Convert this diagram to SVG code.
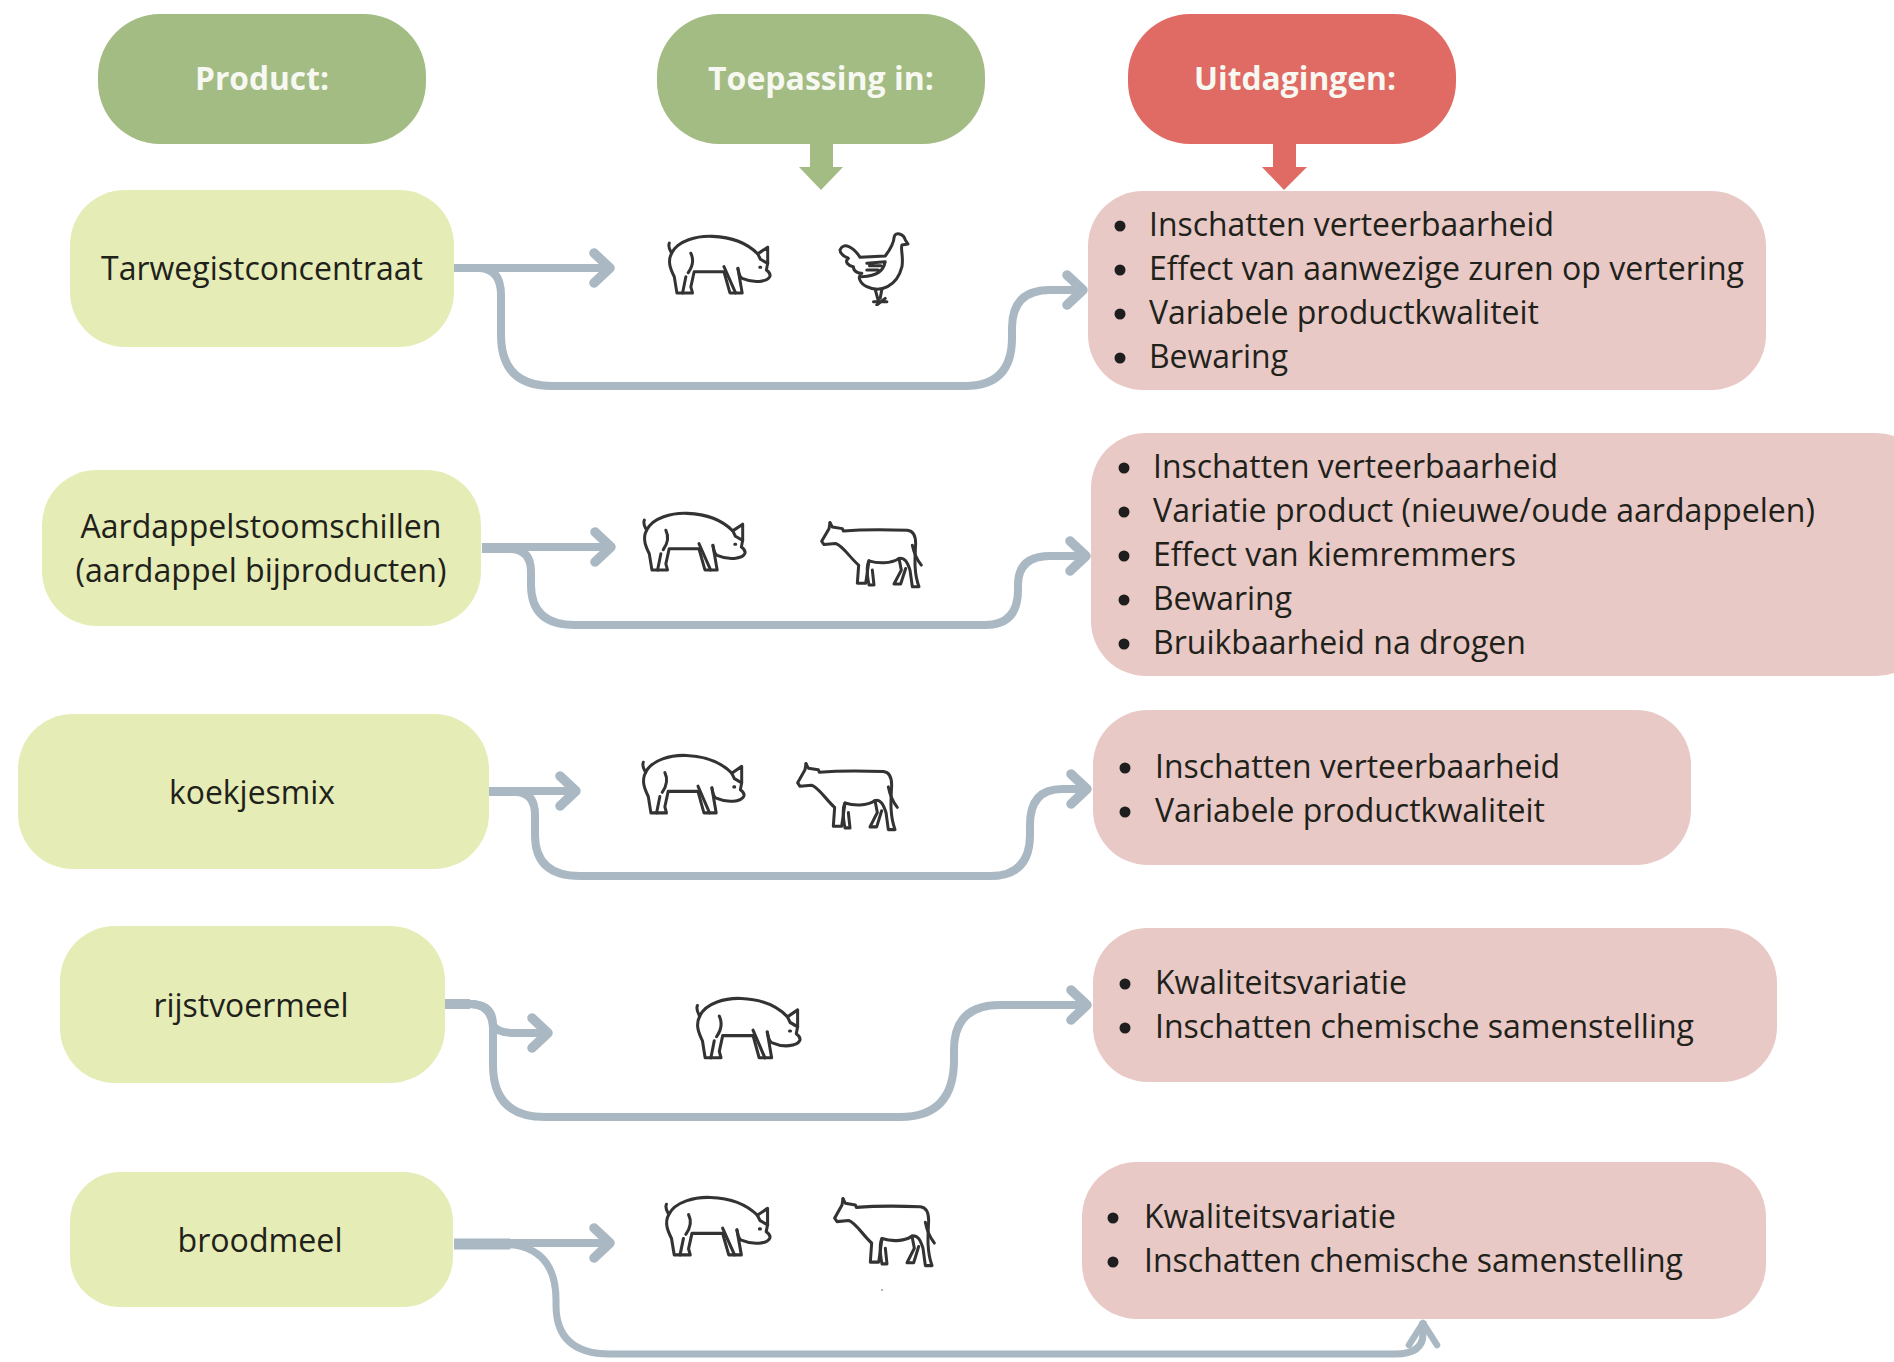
<svg xmlns="http://www.w3.org/2000/svg" xmlns:xlink="http://www.w3.org/1999/xlink" width="1894" height="1362" viewBox="0 0 1894 1362">
<style>
text{font-family:"Open Sans","Noto Sans","Liberation Sans",sans-serif;font-size:33px;fill:#1f221b}
.c{text-anchor:middle}
.h{font-weight:700;fill:#f7f8f2;font-size:33px}
.hg{fill:#a3bc83}.hr{fill:#e06a64}.p{fill:#e5ecb5}.u{fill:#e8c9c5}
.dot{fill:#1e1e1e}
.cn{fill:none;stroke:#a9b8c2;stroke-width:8;marker-end:url(#chev)}
.cv{fill:none;stroke:#a9b8c2;stroke-width:7;marker-end:url(#chevn)}
.ic{fill:none;stroke:#333;stroke-width:9;stroke-linecap:round;stroke-linejoin:round}
</style>
<defs>
<marker id="chev" markerUnits="userSpaceOnUse" markerWidth="40" markerHeight="50" refX="26" refY="25" orient="auto"><path d="M8 10L24 25L8 40" fill="none" stroke="#a9b8c2" stroke-width="9.5" stroke-linecap="round" stroke-linejoin="round"/></marker>
<marker id="chevn" markerUnits="userSpaceOnUse" markerWidth="40" markerHeight="50" refX="30" refY="25" orient="auto"><path d="M6 11L28 25L6 39" fill="none" stroke="#a9b8c2" stroke-width="6.5" stroke-linecap="round" stroke-linejoin="round"/></marker>
<symbol id="pig" viewBox="0 0 320 190" preserveAspectRatio="none"><g class="ic" transform="translate(-75,-310)">
<path d="M85 340C80 352 88 362 92 370C110 332 170 318 215 320C270 322 320 340 352 372L382 352V400L378 420C385 425 392 432 388 440C380 455 340 460 305 445C295 440 295 425 292 415"/>
<path d="M352 372L360 388L382 400M358 412h3"/>
<path d="M92 370C78 395 90 420 100 440L108 488H155L150 470L160 425H250L268 488H305L292 415"/>
<path d="M125 488L135 440M150 370C160 390 155 410 142 428M250 410L285 488"/>
</g></symbol>
<symbol id="cow" viewBox="0 0 315 205" preserveAspectRatio="none"><g class="ic" transform="translate(-595,-92)">
<path d="M628 97L635 110L665 115L668 122C720 118 800 118 860 120C880 122 885 140 885 160C882 210 880 250 895 290H875L868 240C860 215 850 200 835 205C810 222 770 220 745 212C735 230 740 260 745 285H760L755 240"/>
<path d="M875 165C880 190 890 210 902 225M835 205L842 240L820 282H840L855 235"/>
<path d="M745 212L735 280H710L714 225C690 205 665 165 645 160L610 163L603 153L625 115L628 97"/>
</g></symbol>
<symbol id="hen" viewBox="0 0 215 225" preserveAspectRatio="none"><g class="ic" transform="translate(-594,-303)">
<path d="M762 320C765 305 790 310 795 330L803 342L785 345C780 355 790 380 785 410C770 470 720 490 680 470C660 460 650 440 665 430C655 430 640 425 640 410C625 408 612 395 625 385C615 380 600 375 600 360C610 335 640 350 660 382L735 378C745 365 760 345 762 320Z"/>
<path d="M680 400L735 395C730 420 715 438 665 440M688 407H722M680 420H714"/>
<path d="M705 478L715 515M725 478L720 505M700 515H740M710 525L735 505"/>
</g></symbol>
</defs>

<g id="connectors">
<path class="cn" d="M454 268H612"/>
<path class="cn" d="M454 268H478Q501 268 501 295V335Q501 386 552 386H965Q1012 386 1012 338V328Q1012 290 1050 290H1085"/>
<path class="cn" d="M482 547H613"/>
<path class="cn" d="M482 549H510Q531 549 531 572V585Q531 625 575 625H985Q1018 625 1018 590V585Q1018 556 1050 556H1088"/>
<path class="cn" d="M489 791H578"/>
<path class="cn" d="M489 792H515Q535 792 535 815V835Q535 876 580 876H990Q1030 876 1030 835V825Q1030 789 1062 789H1089"/>
<path class="cn" d="M445 1004H470Q493 1004 493 1025Q497 1033 515 1033H550"/>
<path class="cn" d="M445 1004H470Q493 1004 493 1030V1065Q493 1117 545 1117H900Q954 1117 954 1060V1050Q954 1005 1000 1005H1089"/>
<path class="cn" d="M454 1243H612"/>
<path class="cv" d="M454 1245H515Q556 1252 556 1300V1305Q556 1354 610 1354H1395Q1423 1354 1423 1334V1321"/>
<path d="M454 1244H510" fill="none" stroke="#a9b8c2" stroke-width="11"/>
<path d="M445 1004H470" fill="none" stroke="#a9b8c2" stroke-width="10"/>
</g>

<g id="h-product"><rect class="hg" x="98" y="14" width="328" height="130" rx="62"/><text class="c h" x="262" y="90" textLength="134" lengthAdjust="spacingAndGlyphs">Product:</text></g>
<g id="h-toepassing"><rect class="hg" x="657" y="14" width="328" height="130" rx="62"/><text class="c h" x="821" y="90" textLength="226" lengthAdjust="spacingAndGlyphs">Toepassing in:</text>
<path class="hg" d="M810 144H833V167H843L821 190L799 167H810Z"/></g>
<g id="h-uitdagingen"><rect class="hr" x="1128" y="14" width="328" height="130" rx="62"/><text class="c h" x="1295" y="90" textLength="202" lengthAdjust="spacingAndGlyphs">Uitdagingen:</text>
<path class="hr" d="M1273 144H1296V167H1307L1284 190L1262 167H1273Z"/></g>

<g id="p-tarwe"><rect class="p" x="70" y="190" width="384" height="157" rx="55"/><text class="c" x="262" y="280" textLength="322" lengthAdjust="spacingAndGlyphs">Tarwegistconcentraat</text></g>
<g id="p-aardappel"><rect class="p" x="42" y="470" width="439" height="156" rx="55"/><text class="c" x="261" y="538" textLength="361" lengthAdjust="spacingAndGlyphs">Aardappelstoomschillen</text><text class="c" x="261" y="582" textLength="371" lengthAdjust="spacingAndGlyphs">(aardappel bijproducten)</text></g>
<g id="p-koekjesmix"><rect class="p" x="18" y="714" width="471" height="155" rx="55"/><text class="c" x="252" y="804" textLength="166" lengthAdjust="spacingAndGlyphs">koekjesmix</text></g>
<g id="p-rijst"><rect class="p" x="60" y="926" width="385" height="157" rx="55"/><text class="c" x="251" y="1017" textLength="195" lengthAdjust="spacingAndGlyphs">rijstvoermeel</text></g>
<g id="p-brood"><rect class="p" x="70" y="1172" width="383" height="135" rx="50"/><text class="c" x="260" y="1252" textLength="165" lengthAdjust="spacingAndGlyphs">broodmeel</text></g>

<g id="i-1"><use xlink:href="#pig" href="#pig" x="666" y="233" width="106" height="64"/><use xlink:href="#hen" href="#hen" x="838" y="231" width="72" height="75"/></g>
<g id="i-2"><use xlink:href="#pig" href="#pig" x="641" y="510" width="106" height="64"/><use xlink:href="#cow" href="#cow" x="819" y="521" width="105" height="68"/></g>
<g id="i-3"><use xlink:href="#pig" href="#pig" x="640" y="752" width="106" height="65"/><use xlink:href="#cow" href="#cow" x="795" y="762" width="105" height="70"/></g>
<g id="i-4"><use xlink:href="#pig" href="#pig" x="694" y="995" width="108" height="67"/></g>
<g id="i-5"><use xlink:href="#pig" href="#pig" x="663" y="1194" width="109" height="65"/><use xlink:href="#cow" href="#cow" x="832" y="1197" width="105" height="71"/><circle cx="882" cy="1290" r="1" fill="#999"/></g>

<g id="u-1"><rect class="u" x="1088" y="191" width="678" height="199" rx="55"/>
<circle class="dot" cx="1120" cy="226" r="5.5"/><circle class="dot" cx="1120" cy="270" r="5.5"/><circle class="dot" cx="1120" cy="314" r="5.5"/><circle class="dot" cx="1120" cy="358" r="5.5"/>
<text x="1149" y="236" textLength="405" lengthAdjust="spacingAndGlyphs">Inschatten verteerbaarheid</text>
<text x="1149" y="280" textLength="595" lengthAdjust="spacingAndGlyphs">Effect van aanwezige zuren op vertering</text>
<text x="1149" y="324" textLength="390" lengthAdjust="spacingAndGlyphs">Variabele productkwaliteit</text>
<text x="1149" y="368" textLength="139" lengthAdjust="spacingAndGlyphs">Bewaring</text></g>
<g id="u-2"><rect class="u" x="1091" y="433" width="840" height="243" rx="55"/>
<circle class="dot" cx="1124" cy="468" r="5.5"/><circle class="dot" cx="1124" cy="512" r="5.5"/><circle class="dot" cx="1124" cy="556" r="5.5"/><circle class="dot" cx="1124" cy="600" r="5.5"/><circle class="dot" cx="1124" cy="644" r="5.5"/>
<text x="1153" y="478" textLength="405" lengthAdjust="spacingAndGlyphs">Inschatten verteerbaarheid</text>
<text x="1153" y="522" textLength="662" lengthAdjust="spacingAndGlyphs">Variatie product (nieuwe/oude aardappelen)</text>
<text x="1153" y="566" textLength="363" lengthAdjust="spacingAndGlyphs">Effect van kiemremmers</text>
<text x="1153" y="610" textLength="139" lengthAdjust="spacingAndGlyphs">Bewaring</text>
<text x="1153" y="654" textLength="373" lengthAdjust="spacingAndGlyphs">Bruikbaarheid na drogen</text></g>
<g id="u-3"><rect class="u" x="1093" y="710" width="598" height="155" rx="55"/>
<circle class="dot" cx="1125" cy="768" r="5.5"/><circle class="dot" cx="1125" cy="812" r="5.5"/>
<text x="1155" y="778" textLength="405" lengthAdjust="spacingAndGlyphs">Inschatten verteerbaarheid</text>
<text x="1155" y="822" textLength="390" lengthAdjust="spacingAndGlyphs">Variabele productkwaliteit</text></g>
<g id="u-4"><rect class="u" x="1093" y="928" width="684" height="154" rx="55"/>
<circle class="dot" cx="1125" cy="984" r="5.5"/><circle class="dot" cx="1125" cy="1028" r="5.5"/>
<text x="1155" y="994" textLength="252" lengthAdjust="spacingAndGlyphs">Kwaliteitsvariatie</text>
<text x="1155" y="1038" textLength="539" lengthAdjust="spacingAndGlyphs">Inschatten chemische samenstelling</text></g>
<g id="u-5"><rect class="u" x="1082" y="1162" width="684" height="157" rx="55"/>
<circle class="dot" cx="1113" cy="1218" r="5.5"/><circle class="dot" cx="1113" cy="1262" r="5.5"/>
<text x="1144" y="1228" textLength="252" lengthAdjust="spacingAndGlyphs">Kwaliteitsvariatie</text>
<text x="1144" y="1272" textLength="539" lengthAdjust="spacingAndGlyphs">Inschatten chemische samenstelling</text></g>
</svg>
